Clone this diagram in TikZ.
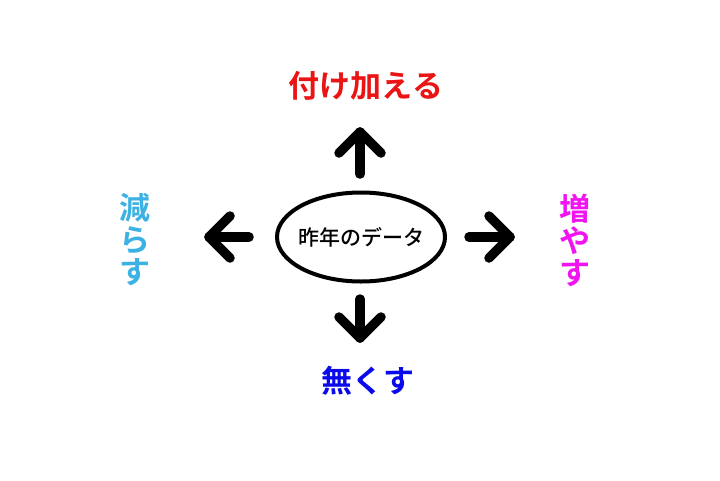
\documentclass[tikz,border=0pt]{standalone}
\usepackage{fontspec}
\newfontfamily\jpb{Noto Sans CJK JP Bold}
\newfontfamily\jp{Noto Sans CJK JP Medium}
\usetikzlibrary{shapes.geometric}
\definecolor{cred}{RGB}{235,20,20}
\definecolor{cblue}{RGB}{59,178,227}
\definecolor{cmag}{RGB}{240,20,240}
\definecolor{cdblue}{RGB}{10,10,235}
\tikzset{
  fatarrow/.style={line width=9.5pt, line cap=round, line join=round, black},
  label/.style={font=\jpb\fontsize{31}{32}\selectfont, inner sep=0pt},
  vlabel/.style={label, align=center},
}
\begin{document}
\begin{tikzpicture}[x=1pt,y=-1pt]
\useasboundingbox (0,0) rectangle (720,480);
\fill[white] (0,0) rectangle (720,480);
\node[ellipse, draw, line width=4pt, minimum width=168pt, minimum height=89pt, inner sep=0pt] (c) at (361,237) {};
\node[inner sep=0pt, font=\jp\fontsize{21}{22}\selectfont] (ct) at (c.center) {昨年のデータ};
% coordinates for arrows
\coordinate (u0) at (360,174); \coordinate (u1) at (360,132);
\coordinate (d0) at (360,299); \coordinate (d1) at (360,338);
\coordinate (l0) at (249,237); \coordinate (l1) at (209,237);
\coordinate (r0) at (469,237); \coordinate (r1) at (510,237);
\draw[fatarrow] (u0) -- (u1);
\draw[fatarrow] ([xshift=-21pt,yshift=-21pt]u1) -- (u1) -- ([xshift=21pt,yshift=-21pt]u1);
\draw[fatarrow] (d0) -- (d1);
\draw[fatarrow] ([xshift=-21pt,yshift=21pt]d1) -- (d1) -- ([xshift=21pt,yshift=21pt]d1);
\draw[fatarrow] (l0) -- (l1);
\draw[fatarrow] ([xshift=21pt,yshift=21pt]l1) -- (l1) -- ([xshift=21pt,yshift=-21pt]l1);
\draw[fatarrow] (r0) -- (r1);
\draw[fatarrow] ([xshift=-21pt,yshift=21pt]r1) -- (r1) -- ([xshift=-21pt,yshift=-21pt]r1);
\node[label, text=cred] (top) at (366,86) {付け加える};
\node[label, text=cdblue] (bot) at (368,381) {無くす};
\node[vlabel, text=cblue] (lft) at (135,240) {減\\ら\\す};
\node[vlabel, text=cmag] (rgt) at (575,240) {増\\や\\す};
\end{tikzpicture}
\end{document}
